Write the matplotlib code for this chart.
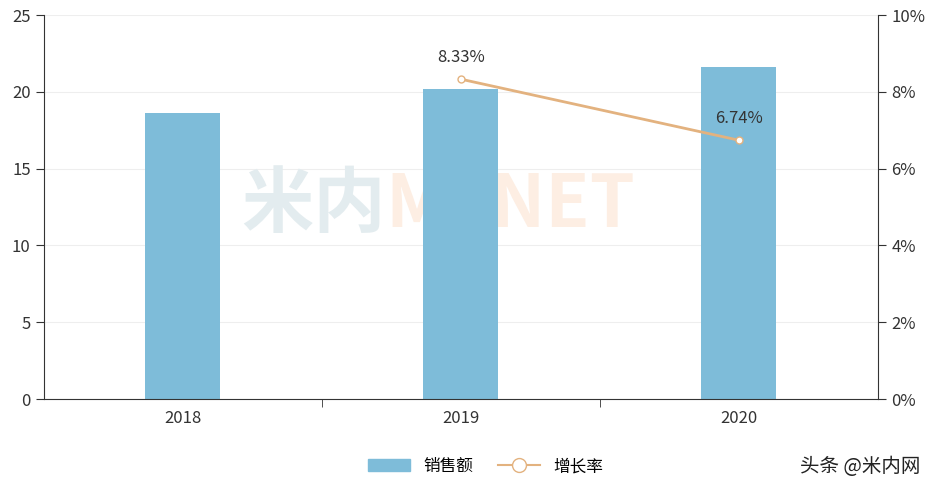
import matplotlib
matplotlib.use("Agg")
import matplotlib.pyplot as plt
from matplotlib.ticker import FuncFormatter
from matplotlib.patches import Patch
from matplotlib.lines import Line2D

plt.rcParams['font.family'] = ['Noto Sans CJK SC', 'DejaVu Sans']

years = ["2018", "2019", "2020"]
sales = [18.6, 20.2, 21.6]
growth_years = ["2019", "2020"]
growth = [8.33, 6.74]

fig = plt.figure(figsize=(9.34, 4.86), dpi=100)
ax = fig.add_axes([0.047, 0.179, 0.893, 0.790])
x = list(range(len(years)))
ax.text(0.73, 12.6, "米内", fontsize=52, color="#e3ecef", ha='right', va='center', weight='bold', zorder=1)
ax.text(0.73, 12.6, "MENET", fontsize=52, color="#fdeee3", ha='left', va='center', weight='bold', zorder=1)
ax.bar(x, sales, width=0.27, color="#7ebcd9", zorder=2)
ax.set_xlim(-0.5, 2.5)
ax.set_ylim(0, 25)
ax.set_yticks(range(0, 26, 5))
ax.set_xticks(x)
ax.set_xticklabels(years)
ax.set_xticks([0.5, 1.5], minor=True)
ax.tick_params(axis='x', which='major', length=0, labelsize=12, colors="#333333", pad=8)
ax.tick_params(axis='x', which='minor', length=6, color="#333333")
ax.tick_params(axis='y', length=6, labelsize=12, colors="#333333")
ax.grid(axis='y', color="#eeeeee", zorder=0)
ax.set_axisbelow(True)
for s in ["top", "right"]:
    ax.spines[s].set_visible(False)
ax.spines["left"].set_color("#333333")
ax.spines["bottom"].set_color("#333333")

ax2 = ax.twinx()
ax2.set_ylim(0, 10)
ax2.set_yticks(range(0, 11, 2))
ax2.yaxis.set_major_formatter(FuncFormatter(lambda v, p: f"{int(v)}%"))
ax2.tick_params(axis='y', length=6, labelsize=12, colors="#333333")
for s in ["top", "left", "bottom"]:
    ax2.spines[s].set_visible(False)
ax2.spines["right"].set_color("#333333")
gx = [years.index(g) for g in growth_years]
ax2.plot(gx, growth, color="#e3b27f", lw=2, marker='o', ms=5, mfc="white", mec="#e3b27f", zorder=3)
for xi, v in zip(gx, growth):
    ax2.text(xi, v + 0.35, f"{v:.2f}%", ha='center', va='bottom', fontsize=12, color="#333333")

handles = [Patch(color="#7ebcd9"),
           Line2D([], [], color="#e3b27f", marker='o', mfc="white", ms=10, lw=1.5)]
fig.legend(handles, ["销售额", "增长率"], loc='center', bbox_to_anchor=(0.52, 0.04), ncol=2,
           frameon=False, fontsize=12, handlelength=2.5, columnspacing=1.5)
fig.text(0.985, 0.04, "头条 @米内网", ha='right', va='center', fontsize=14, color="#222222")
fig.savefig("out.png", dpi=100)
